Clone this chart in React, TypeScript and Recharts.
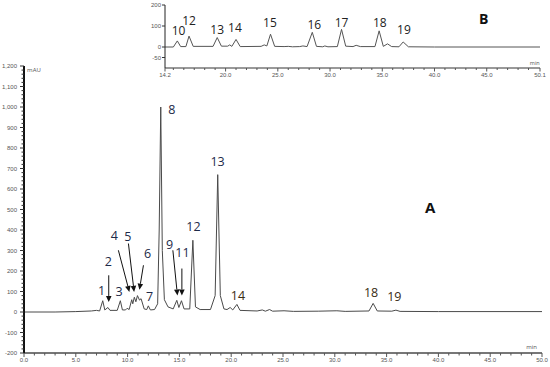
import React from 'react'
import {
  LineChart,
  Line,
  XAxis,
  YAxis,
  ReferenceDot,
  ReferenceLine
} from 'recharts'

// main trace (min, mAU)
const mainTime = [0, 3, 5, 6.5, 7, 7.3, 7.6, 7.8, 8.1, 8.3, 9, 9.3, 9.5, 9.8, 9.95, 10.15, 10.4, 10.5, 10.65, 10.8, 10.95, 11.15, 11.3, 11.6, 11.85, 12, 12.2, 12.6, 12.9, 13.05, 13.2, 13.35, 13.55, 13.9, 14.4, 14.75, 14.95, 15.2, 15.45, 16, 16.3, 16.55, 17, 18, 18.45, 18.7, 18.95, 19.3, 19.6, 19.9, 20.15, 20.55, 20.85, 22.5, 23, 23.3, 23.7, 24, 25.1, 26, 28.4, 30.2, 31, 33.3, 33.7, 34.1, 35.5, 35.9, 36.3, 40, 50]
const mainSignal = [0, 0, 2, 5, 8, 5, 55, 10, 22, 8, 8, 55, 10, 10, 18, 12, 60, 40, 72, 50, 80, 58, 65, 15, 12, 30, 10, 12, 40, 400, 1000, 300, 60, 25, 15, 57, 22, 55, 15, 15, 350, 25, 12, 12, 80, 670, 80, 15, 12, 22, 10, 37, 8, 5, 10, 4, 12, 4, 6, 3, 4, 6, 3, 5, 42, 5, 4, 9, 3, 2, 2]

// inset trace B (min, mAU)
const insetTime = [14.2, 15, 15.38, 15.7, 16.2, 16.5, 16.9, 18.8, 19.2, 19.6, 20.2, 20.4, 20.6, 21, 21.4, 23.4, 23.7, 23.95, 24.3, 24.7, 25.6, 26, 26.4, 27.1, 27.4, 27.8, 28.3, 28.7, 29.3, 29.5, 29.8, 30.7, 31.1, 31.5, 32.2, 32.5, 32.9, 34.3, 34.7, 35.1, 35.5, 35.9, 36.6, 37, 37.5, 40, 50.1]
const insetSignal = [0, 0, 29, 2, 2, 52, 3, 3, 45, 4, 4, 10, 3, 36, 2, 3, 10, 5, 61, 3, 2, 3, 1, 2, 5, 2, 70, 3, 1, 5, 1, 2, 84, 4, 2, 8, 2, 2, 77, 3, 15, 2, 1, 24, 1, 0, 0]

// peak numbers on trace A
const peakNames = ['1', '2', '3', '4', '5', '6', '7', '8', '9', '11', '12', '13', '14', '18', '19']
const peakLabelTime = [7.5, 8.15, 9.18, 8.73, 10.02, 11.92, 12.11, 14.27, 14.04, 15.3, 16.36, 18.68, 20.65, 33.5, 35.75]
const peakLabelValue = [106, 244, 98, 374, 369, 285, 78, 987, 330, 290, 418, 732, 81, 93, 77]

// arrows on trace A
const arrowFromTime = [8.18, 9.11, 10.08, 11.53, 14.37, 15.24]
const arrowFromValue = [179, 301, 334, 228, 301, 212]
const arrowToTime = [8.18, 10.17, 10.63, 11.14, 14.81, 15.24]
const arrowToValue = [49, 98, 98, 109, 81, 81]

// peak numbers on trace B
const insetNames = ['10', '12', '13', '14', '15', '16', '17', '18', '19']
const insetLabelTime = [15.5, 16.5, 19.2, 20.9, 24.25, 28.5, 31.1, 34.77, 37.07]
const insetLabelValue = [77, 124, 85, 94, 116, 105, 116, 116, 81]

const mainXTicks = Array.from({ length: 51 }, (_, i) => i)
const mainYTicks = Array.from({ length: 71 }, (_, i) => -200 + i * 20)
const insetXMajor = [14.2, 20, 25, 30, 35, 40, 45, 50.1]
const insetXTicks = [14.2, ...Array.from({ length: 35 }, (_, i) => i + 15), 50.1]
const insetYTicks = [-50, 0, 100, 200]

const mainData = mainTime.map((t, i) => ({ t, v: mainSignal[i] }))
const insetData = insetTime.map((t, i) => ({ t, v: insetSignal[i] }))

const tickFont = { fontSize: 6, fill: '#555', fontFamily: 'Liberation Sans, sans-serif' }
const labelFont = 'Open Sans, sans-serif'

const MainXTick = (p: any) => {
  const major = p.payload.value % 5 === 0
  return (
    <g>
      <line x1={p.x} x2={p.x} y1={p.y} y2={p.y + (major ? 4 : 2.5)} stroke="#555" strokeWidth={1} />
      {major && (
        <text x={p.x} y={p.y + 9} textAnchor="middle" {...tickFont}>
          {p.payload.value.toFixed(1)}
        </text>
      )}
    </g>
  )
}

const MainYTick = (p: any) => {
  const major = p.payload.value % 100 === 0
  return (
    <g>
      <line x1={p.x} x2={p.x - (major ? 4 : 2.5)} y1={p.y} y2={p.y} stroke="#333" strokeWidth={1} />
      {major && (
        <text x={p.x - 7} y={p.y + 2} textAnchor="end" {...tickFont}>
          {p.payload.value.toLocaleString('en-US')}
        </text>
      )}
    </g>
  )
}

const InsetXTick = (p: any) => {
  const major = insetXMajor.includes(p.payload.value)
  return (
    <g>
      <line x1={p.x} x2={p.x} y1={p.y} y2={p.y + (major ? 3.5 : 2)} stroke="#555" strokeWidth={1} />
      {major && (
        <text x={p.x} y={p.y + 8.5} textAnchor="middle" {...tickFont}>
          {p.payload.value.toFixed(1)}
        </text>
      )}
    </g>
  )
}

const InsetYTick = (p: any) => (
  <g>
    <line x1={p.x} x2={p.x - 3} y1={p.y} y2={p.y} stroke="#333" strokeWidth={1} />
    <text x={p.x - 4} y={p.y + 2} textAnchor="end" {...tickFont}>
      {p.payload.value}
    </text>
  </g>
)

const Arrow = (p: any) => {
  const { x1, y1, x2, y2 } = p
  const a = Math.atan2(y2 - y1, x2 - x1)
  const L = 6
  const W = 2.8
  const bx = x2 - L * Math.cos(a)
  const by = y2 - L * Math.sin(a)
  const pts = [
    `${x2},${y2}`,
    `${bx + W * Math.sin(a)},${by - W * Math.cos(a)}`,
    `${bx - W * Math.sin(a)},${by + W * Math.cos(a)}`
  ].join(' ')
  return (
    <g>
      <line x1={x1} y1={y1} x2={bx} y2={by} stroke="#111" strokeWidth={1} />
      <polygon points={pts} fill="#111" />
    </g>
  )
}

const textShape = (txt: string, size: number, color: string, bold = false, anchor = 'middle') => (p: any) => (
  <text
    x={p.cx}
    y={p.cy}
    textAnchor={anchor}
    dominantBaseline="central"
    fontSize={size}
    fontWeight={bold ? 700 : 400}
    fontFamily={labelFont}
    fill={color}
  >
    {txt}
  </text>
)

const peakColor = (name: string) => (['14', '18', '19'].includes(name) ? '#3a2c14' : '#1d2a48')

export default function App() {
  return (
    <div style={{ position: 'absolute', left: 0, top: 0, width: 550, height: 367, background: '#fff' }}>
      <div style={{ position: 'absolute', left: 0, top: 0 }}>
        <LineChart width={550} height={367} data={mainData} margin={{ top: 66, right: 8, left: 4, bottom: 4 }}>
          <XAxis
            dataKey="t"
            type="number"
            domain={[0, 50]}
            ticks={mainXTicks}
            interval={0}
            height={10}
            tickSize={0}
            tickMargin={0}
            tickLine={false}
            tick={<MainXTick />}
            axisLine={{ stroke: '#777', strokeWidth: 2 }}
          />
          <YAxis
            type="number"
            domain={[-200, 1200]}
            ticks={mainYTicks}
            interval={0}
            width={20}
            tickSize={0}
            tickMargin={0}
            tickLine={false}
            tick={<MainYTick />}
            axisLine={{ stroke: '#111', strokeWidth: 2 }}
          />
          <Line type="linear" dataKey="v" stroke="#4a4a4a" strokeWidth={1} dot={false} isAnimationActive={false} />
          {arrowFromTime.map((t, i) => (
            <ReferenceLine
              key={'a' + i}
              segment={[
                { x: t, y: arrowFromValue[i] },
                { x: arrowToTime[i], y: arrowToValue[i] }
              ]}
              shape={Arrow}
            />
          ))}
          {peakNames.map((n, i) => (
            <ReferenceDot
              key={'p' + i}
              x={peakLabelTime[i]}
              y={peakLabelValue[i]}
              r={0}
              shape={textShape(n, 12.5, peakColor(n))}
            />
          ))}
          <ReferenceDot x={39.2} y={512} r={0} shape={textShape('A', 15, '#111', true)} />
          <ReferenceDot x={0.3} y={1179} r={0} shape={textShape('mAU', 6, '#555', false, 'start')} />
          <ReferenceDot x={49} y={-171} r={0} shape={textShape('min', 6, '#555')} />
        </LineChart>
      </div>
      <div style={{ position: 'absolute', left: 0, top: 0 }}>
        <LineChart width={550} height={80} data={insetData} margin={{ top: 5, right: 10, left: 145, bottom: 2 }}>
          <XAxis
            dataKey="t"
            type="number"
            domain={[14.2, 50.1]}
            ticks={insetXTicks}
            interval={0}
            height={10}
            tickSize={0}
            tickMargin={0}
            tickLine={false}
            tick={<InsetXTick />}
            axisLine={{ stroke: '#777', strokeWidth: 1.5 }}
          />
          <YAxis
            type="number"
            domain={[-100, 200]}
            ticks={insetYTicks}
            interval={0}
            width={20}
            tickSize={0}
            tickMargin={0}
            tickLine={false}
            tick={<InsetYTick />}
            axisLine={{ stroke: '#222', strokeWidth: 1 }}
          />
          <Line type="linear" dataKey="v" stroke="#555" strokeWidth={1} dot={false} isAnimationActive={false} />
          {insetNames.map((n, i) => (
            <ReferenceDot
              key={'b' + i}
              x={insetLabelTime[i]}
              y={insetLabelValue[i]}
              r={0}
              shape={textShape(n, 12, '#222')}
            />
          ))}
          <ReferenceDot x={44.7} y={137} r={0} shape={textShape('B', 14, '#111', true)} />
          <ReferenceDot x={49.6} y={-76} r={0} shape={textShape('min', 5.5, '#555')} />
        </LineChart>
      </div>
    </div>
  )
}
